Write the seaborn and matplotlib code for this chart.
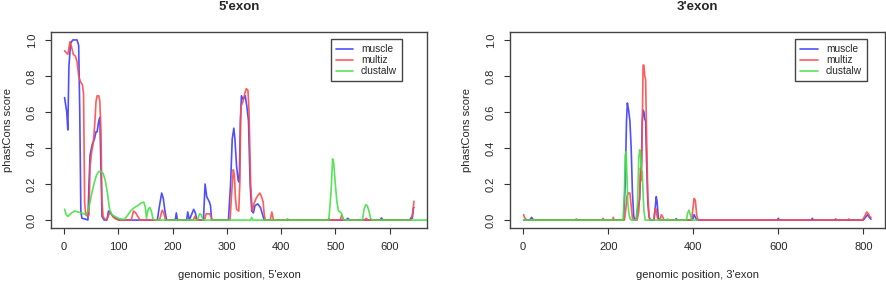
import matplotlib
matplotlib.use("Agg")
import matplotlib.pyplot as plt
import seaborn as sns
import pandas as pd
import numpy as np

# 5'exon, knots (position, phastCons score)
muscle5_x = [1, 5, 7, 9, 12, 16, 24, 27, 29, 31, 33, 40, 44, 46, 48, 52, 56, 59, 61, 64, 66, 68, 70, 74,
             79, 82, 86, 90, 96, 102, 172, 176, 180, 183, 186, 189, 205, 207, 209, 226, 228, 231, 235, 239,
             242, 245, 257, 260, 263, 268, 270, 272, 303, 307, 310, 313, 315, 318, 321, 323, 325, 327, 330,
             334, 337, 340, 343, 346, 349, 352, 357, 362, 366, 369, 520, 523, 526, 583, 585, 588, 637, 640,
             642, 644, 645]
muscle5_y = [0.68, 0.6, 0.5, 0.85, 0.98, 1.0, 1.0, 0.97, 0.6, 0.05, 0.01, 0.005, 0.0, 0.2, 0.36, 0.42,
             0.45, 0.49, 0.49, 0.55, 0.57, 0.3, 0.02, 0.0, 0.0, 0.05, 0.04, 0.02, 0.01, 0.0, 0.0, 0.08, 0.15,
             0.12, 0.05, 0.0, 0.0, 0.04, 0.0, 0.0, 0.045, 0.0, 0.03, 0.06, 0.04, 0.0, 0.0, 0.2, 0.13, 0.1,
             0.08, 0.0, 0.0, 0.2, 0.45, 0.51, 0.45, 0.3, 0.22, 0.21, 0.55, 0.69, 0.67, 0.69, 0.63, 0.55, 0.2,
             0.05, 0.04, 0.08, 0.09, 0.07, 0.03, 0.0, 0.0, 0.01, 0.0, 0.0, 0.012, 0.0, 0.0, 0.015, 0.01,
             0.065, 0.07]

multiz5_x = [1, 4, 7, 11, 14, 17, 21, 24, 27, 30, 34, 36, 38, 40, 44, 46, 48, 51, 54, 57, 59, 61, 64, 66,
             68, 70, 72, 76, 80, 84, 88, 93, 100, 124, 128, 132, 136, 140, 176, 181, 184, 187, 238, 241,
             244, 259, 262, 268, 271, 273, 306, 309, 312, 314, 316, 318, 322, 324, 326, 330, 333, 336, 339,
             341, 344, 347, 350, 354, 358, 361, 364, 367, 369, 371, 380, 383, 386, 486, 488, 490, 509, 512,
             515, 554, 557, 560, 640, 643, 645]
multiz5_y = [0.94, 0.93, 0.92, 0.99, 0.96, 0.92, 0.91, 0.88, 0.8, 0.77, 0.75, 0.7, 0.1, 0.03, 0.02, 0.03,
             0.3, 0.38, 0.43, 0.55, 0.66, 0.69, 0.69, 0.66, 0.5, 0.1, 0.02, 0.0, 0.01, 0.04, 0.03, 0.01, 0.0,
             0.0, 0.05, 0.04, 0.02, 0.0, 0.0, 0.055, 0.04, 0.0, 0.0, 0.02, 0.0, 0.0, 0.035, 0.035, 0.02, 0.0,
             0.0, 0.15, 0.28, 0.25, 0.12, 0.06, 0.05, 0.2, 0.63, 0.66, 0.7, 0.73, 0.72, 0.6, 0.2, 0.05, 0.09,
             0.12, 0.14, 0.15, 0.13, 0.1, 0.03, 0.0, 0.0, 0.045, 0.0, 0.0, 0.008, 0.0, 0.0, 0.03, 0.0, 0.0,
             0.01, 0.0, 0.0, 0.05, 0.105]

clustalw5_x = [1, 4, 7, 14, 20, 26, 32, 40, 44, 48, 52, 56, 60, 64, 68, 72, 76, 80, 84, 88, 94, 100, 106,
               112, 118, 124, 130, 136, 142, 147, 150, 152, 155, 158, 161, 164, 170, 246, 250, 253, 256,
               344, 346, 348, 410, 412, 414, 488, 492, 495, 497, 500, 503, 506, 509, 511, 514, 516, 550,
               553, 556, 559, 562, 565, 568, 670]
clustalw5_y = [0.06, 0.03, 0.02, 0.04, 0.05, 0.045, 0.04, 0.03, 0.05, 0.1, 0.16, 0.21, 0.25, 0.27, 0.27,
               0.26, 0.22, 0.15, 0.06, 0.03, 0.02, 0.01, 0.005, 0.005, 0.03, 0.055, 0.07, 0.08, 0.095, 0.1,
               0.07, 0.01, 0.06, 0.07, 0.05, 0.005, 0.0, 0.0, 0.035, 0.03, 0.0, 0.0, 0.015, 0.0, 0.0, 0.008,
               0.0, 0.0, 0.15, 0.34, 0.32, 0.2, 0.1, 0.05, 0.045, 0.04, 0.01, 0.0, 0.0, 0.06, 0.085, 0.08,
               0.05, 0.01, 0.0, 0.0]

# 3'exon
muscle3_x = [1, 15, 20, 24, 123, 125, 127, 236, 240, 243, 245, 248, 251, 254, 257, 260, 263, 266, 268,
             271, 274, 276, 278, 280, 282, 284, 286, 288, 290, 293, 296, 299, 308, 311, 313, 315, 318, 322,
             358, 360, 362, 398, 402, 406, 409, 598, 600, 602, 678, 680, 682, 733, 735, 737, 800, 805, 810,
             814, 818]
muscle3_y = [0.0, 0.0, 0.015, 0.0, 0.0, 0.005, 0.0, 0.0, 0.2, 0.55, 0.65, 0.61, 0.55, 0.4, 0.15, 0.02, 0.0,
             0.0, 0.05, 0.08, 0.12, 0.25, 0.3, 0.55, 0.61, 0.6, 0.56, 0.55, 0.35, 0.1, 0.02, 0.0, 0.0, 0.08,
             0.13, 0.1, 0.01, 0.0, 0.0, 0.008, 0.0, 0.0, 0.03, 0.01, 0.0, 0.0, 0.01, 0.0, 0.0, 0.01, 0.0,
             0.0, 0.006, 0.0, 0.0, 0.015, 0.03, 0.015, 0.005]

multiz3_x = [1, 3, 6, 10, 186, 188, 190, 210, 212, 214, 238, 241, 244, 247, 251, 254, 257, 260, 268, 272,
             274, 276, 278, 280, 282, 284, 286, 288, 290, 293, 296, 298, 307, 310, 312, 315, 318, 322, 325,
             328, 331, 396, 399, 402, 405, 408, 411, 763, 766, 769, 798, 803, 808, 812, 815, 818]
multiz3_y = [0.03, 0.015, 0.005, 0.0, 0.0, 0.01, 0.0, 0.0, 0.015, 0.0, 0.0, 0.05, 0.13, 0.15, 0.15, 0.08,
             0.01, 0.0, 0.0, 0.05, 0.15, 0.29, 0.22, 0.5, 0.86, 0.86, 0.8, 0.78, 0.5, 0.15, 0.02, 0.0, 0.0,
             0.06, 0.065, 0.02, 0.0, 0.0, 0.03, 0.02, 0.0, 0.0, 0.06, 0.12, 0.11, 0.03, 0.0, 0.0, 0.006,
             0.0, 0.0, 0.02, 0.045, 0.035, 0.02, 0.015]

clustalw3_x = [1, 123, 125, 127, 235, 238, 240, 242, 244, 246, 249, 252, 255, 266, 269, 272, 274, 276, 278,
               280, 282, 284, 287, 338, 340, 342, 384, 387, 390, 393, 396, 410]
clustalw3_y = [0.0, 0.0, 0.006, 0.0, 0.0, 0.15, 0.36, 0.38, 0.25, 0.1, 0.03, 0.005, 0.0, 0.0, 0.1, 0.35,
               0.39, 0.37, 0.28, 0.27, 0.15, 0.05, 0.0, 0.0, 0.006, 0.0, 0.0, 0.04, 0.055, 0.03, 0.0, 0.0]

methods = ["muscle", "multiz", "clustalw"]
colours = {"muscle": "#3c3cff", "multiz": "#ff4a4a", "clustalw": "#46e046"}


def build_df(xs, ys):
    parts = []
    for m, x, y in zip(methods, xs, ys):
        parts.append(pd.DataFrame({"position": x, "score": y, "method": m}))
    return pd.concat(parts, ignore_index=True)


df5 = build_df([muscle5_x, multiz5_x, clustalw5_x], [muscle5_y, multiz5_y, clustalw5_y])
df3 = build_df([muscle3_x, multiz3_x, clustalw3_x], [muscle3_y, multiz3_y, clustalw3_y])

sns.set_style("white")
plt.rcParams["font.family"] = ["Liberation Sans", "DejaVu Sans"]

fig = plt.figure(figsize=(8.86, 2.82), dpi=100)
ax1 = fig.add_axes([51 / 886, 1 - 228 / 282, 376 / 886, 196 / 282])
ax2 = fig.add_axes([510 / 886, 1 - 228 / 282, 375 / 886, 196 / 282])

panels = [
    (ax1, df5, "5'exon", (-24, 669), np.arange(0, 601, 100), 0.934),
    (ax2, df3, "3'exon", (-31, 851), np.arange(0, 801, 200), 0.952),
]

for ax, df, name, xlim, xticks, leg_x in panels:
    sns.lineplot(data=df, x="position", y="score", hue="method", hue_order=methods,
                 palette=colours, estimator=None, sort=False, linewidth=1.2, alpha=0.9, ax=ax)
    ax.set_xlim(xlim)
    ax.set_ylim(-0.044, 1.044)
    ax.set_xticks(xticks)
    ax.set_yticks([0.0, 0.2, 0.4, 0.6, 0.8, 1.0])
    ax.set_yticklabels(["0.0", "0.2", "0.4", "0.6", "0.8", "1.0"], rotation=90, va="center")
    ax.tick_params(axis="both", direction="out", length=4, width=0.8, color="#333333",
                   labelsize=8, pad=6, bottom=True, left=True)
    for s in ax.spines.values():
        s.set_color("#444444")
        s.set_linewidth(1.0)
    ax.set_xlabel("genomic position, " + name, fontsize=8, labelpad=13)
    ax.set_ylabel("phastCons score", fontsize=8, labelpad=10)
    ax.set_title(name, fontsize=9.5, fontweight="bold", pad=16)
    leg = ax.legend(loc="upper right", bbox_to_anchor=(leg_x, 0.964), fontsize=7.3,
                    frameon=True, fancybox=False, edgecolor="#444444", framealpha=1,
                    handlelength=1.7, handletextpad=0.8, labelspacing=0.1, borderpad=0.5,
                    borderaxespad=0)
    leg.get_frame().set_linewidth(1.0)

fig.savefig("out.png", dpi=100)
